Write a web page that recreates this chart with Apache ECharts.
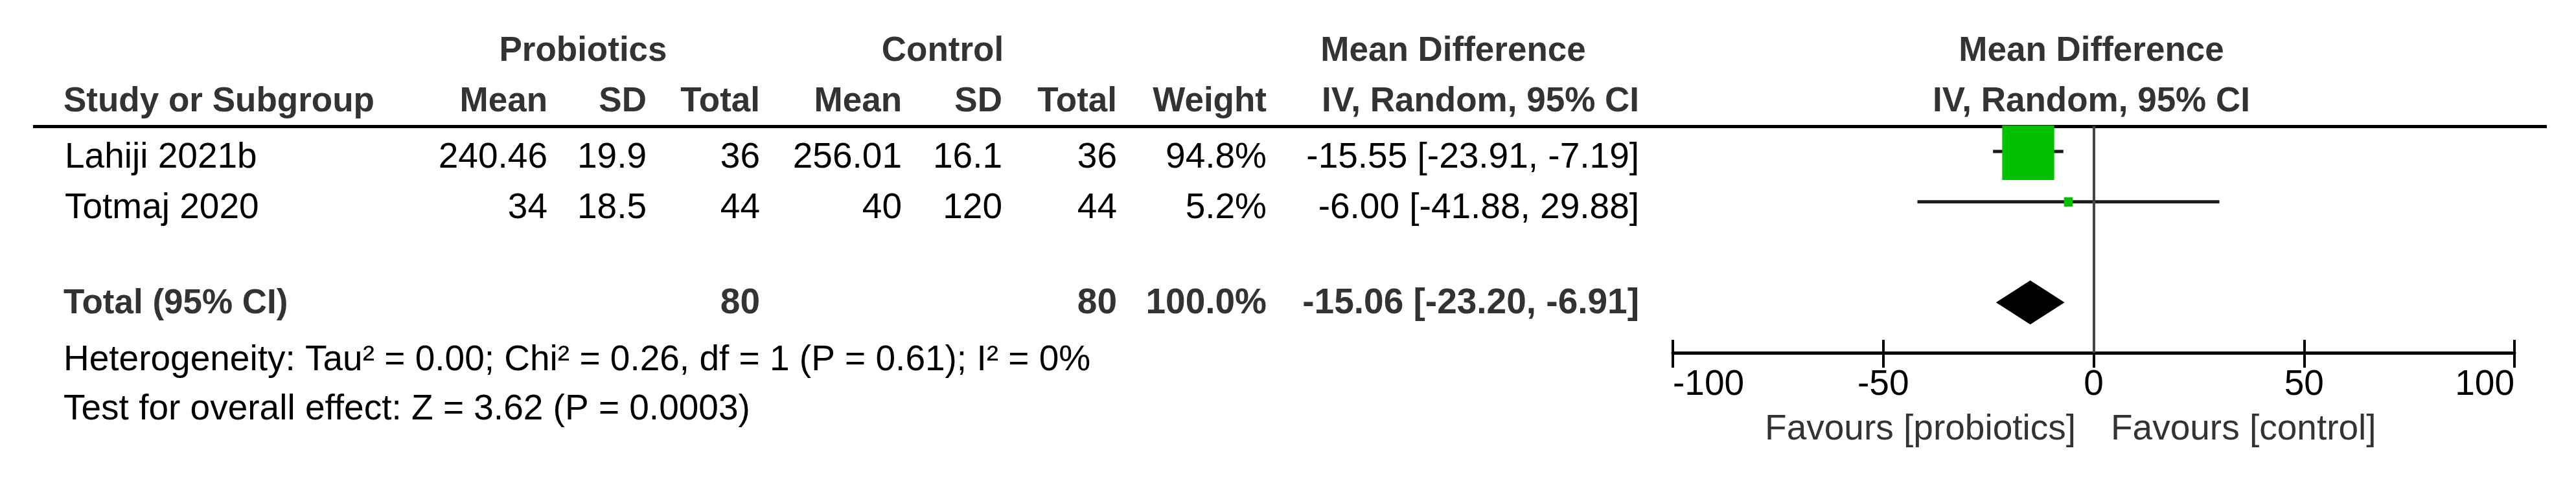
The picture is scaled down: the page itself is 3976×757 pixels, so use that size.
<!DOCTYPE html>
<html>
<head>
<meta charset="utf-8">
<script src="https://cdn.jsdelivr.net/npm/echarts@6/dist/echarts.min.js"></script>
<style>
  html, body { margin: 0; padding: 0; background: #fff; }
  #chart { width: 3976px; height: 757px; }
</style>
</head>
<body>
<div id="chart"></div>
<script>
// study data
const studies = ['Lahiji 2021b', 'Totmaj 2020']
const probMean = [240.46, 34]
const probSD = [19.9, 18.5]
const probTotal = [36, 44]
const ctrlMean = [256.01, 40]
const ctrlSD = [16.1, 120]
const ctrlTotal = [36, 44]
const weights = [94.8, 5.2]
const md = [-15.55, -6.00]
const ciLow = [-23.91, -41.88]
const ciHigh = [-7.19, 29.88]

const totalLabel = 'Total (95% CI)'
const totalProb = 80
const totalCtrl = 80
const totalWeight = 100.0
const totalMd = -15.06
const totalLow = -23.20
const totalHigh = -6.91

const xTicks = [-100, -50, 0, 50, 100]
const footnotes = [
  'Heterogeneity: Tau\u00b2 = 0.00; Chi\u00b2 = 0.26, df = 1 (P = 0.61); I\u00b2 = 0%',
  'Test for overall effect: Z = 3.62 (P = 0.0003)'
]
const favours = ['Favours [probiotics]', 'Favours [control]']

const FONT = '"Liberation Sans", Arial, sans-serif'
const FS = 55
const FS_BOLD = 53

function txt (str, x, y, align, bold, color, size) {
  const fs = size || (bold ? FS_BOLD : FS)
  return {
    type: 'text',
    x: x,
    y: y,
    silent: true,
    style: {
      text: str,
      textAlign: align,
      textVerticalAlign: 'middle',
      font: (bold ? 'bold ' : '') + fs + 'px ' + FONT,
      fill: color || '#000'
    }
  }
}

const fmtCI = (m, lo, hi) => m.toFixed(2) + ' [' + lo.toFixed(2) + ', ' + hi.toFixed(2) + ']'

// table layout: column anchors and row heights (pixels)
const rowY = [244, 322]
const totalY = 469
const head1Y = 79
const head2Y = 157
const HEAD = '#333'

const graphics = []
// header rows
graphics.push(txt('Probiotics', 900, head1Y, 'center', true, HEAD))
graphics.push(txt('Control', 1455, head1Y, 'center', true, HEAD))
graphics.push(txt('Mean Difference', 2243, head1Y, 'center', true, HEAD))
graphics.push(txt('Mean Difference', 3228, head1Y, 'center', true, HEAD))
graphics.push(txt('Study or Subgroup', 98, head2Y, 'left', true, HEAD))
const colDefs = [
  { x: 845, name: 'Mean', vals: probMean.map(String), tot: '' },
  { x: 998, name: 'SD', vals: probSD.map(String), tot: '' },
  { x: 1173, name: 'Total', vals: probTotal.map(String), tot: String(totalProb) },
  { x: 1392, name: 'Mean', vals: ctrlMean.map(String), tot: '' },
  { x: 1547, name: 'SD', vals: ctrlSD.map(String), tot: '' },
  { x: 1724, name: 'Total', vals: ctrlTotal.map(String), tot: String(totalCtrl) },
  { x: 1955, name: 'Weight', vals: weights.map(w => w.toFixed(1) + '%'), tot: totalWeight.toFixed(1) + '%' },
  { x: 2530, name: 'IV, Random, 95% CI', vals: md.map((m, i) => fmtCI(m, ciLow[i], ciHigh[i])), tot: fmtCI(totalMd, totalLow, totalHigh) }
]
colDefs.forEach(c => {
  graphics.push(txt(c.name, c.x, head2Y, 'right', true, HEAD))
  c.vals.forEach((v, i) => graphics.push(txt(v, c.x, rowY[i], 'right', false)))
  if (c.tot) graphics.push(txt(c.tot, c.x, totalY, 'right', true, HEAD, FS))
})
graphics.push(txt('IV, Random, 95% CI', 3228, head2Y, 'center', true, HEAD))
studies.forEach((s, i) => graphics.push(txt(s, 100, rowY[i], 'left', false)))
graphics.push(txt(totalLabel, 98, totalY, 'left', true, HEAD))
graphics.push(txt(footnotes[0], 98, 557, 'left', false))
graphics.push(txt(footnotes[1], 98, 633, 'left', false))
graphics.push(txt(favours[0], 3204, 664, 'right', false, HEAD))
graphics.push(txt(favours[1], 3258, 664, 'left', false, HEAD))
// rule under the header
graphics.push({
  type: 'line',
  silent: true,
  shape: { x1: 51, y1: 195.5, x2: 3931, y2: 195.5 },
  style: { stroke: '#000', lineWidth: 5 }
})

const studyData = studies.map((s, i) => [md[i], i + 1, ciLow[i], ciHigh[i], weights[i]])
const totalData = [[totalMd, 4, totalLow, totalHigh]]

const xBase = {
  type: 'value',
  min: xTicks[0],
  max: xTicks[xTicks.length - 1],
  interval: 50,
  position: 'bottom',
  splitLine: { show: false }
}

const option = {
  animation: false,
  backgroundColor: '#fff',
  grid: { left: 2582, right: 95, top: 195, bottom: 212 },
  xAxis: [
    Object.assign({}, xBase, {
      axisLine: { show: true, lineStyle: { color: '#000', width: 5 } },
      axisTick: { show: true, inside: true, length: 20, lineStyle: { color: '#000', width: 4 } },
      axisLabel: {
        show: true,
        margin: 22,
        color: '#000',
        fontSize: FS,
        fontFamily: FONT,
        alignMinLabel: 'left',
        alignMaxLabel: 'right'
      }
    }),
    Object.assign({}, xBase, {
      axisLine: { show: false },
      axisTick: { show: true, inside: false, length: 23, lineStyle: { color: '#000', width: 4 } },
      axisLabel: { show: false }
    })
  ],
  yAxis: { type: 'value', min: 0.5, max: 5, inverse: true, show: false },
  graphic: graphics,
  series: [
    {
      type: 'custom',
      name: 'studies',
      xAxisIndex: 0,
      encode: { x: [0, 2, 3], y: 1 },
      data: studyData,
      renderItem (params, api) {
        const y = api.value(1)
        const lo = api.coord([api.value(2), y])
        const hi = api.coord([api.value(3), y])
        const c = api.coord([api.value(0), y])
        const side = 5 * Math.pow(api.value(4), 0.61)
        return {
          type: 'group',
          children: [
            { type: 'line', shape: { x1: lo[0], y1: lo[1], x2: hi[0], y2: hi[1] }, style: { stroke: '#1a1a1a', lineWidth: 5 } },
            { type: 'rect', shape: { x: c[0] - side / 2, y: c[1] - side / 2, width: side, height: side * 1.05 }, style: { fill: '#00c000' } }
          ]
        }
      },
      markLine: {
        silent: true,
        symbol: ['none', 'none'],
        label: { show: false },
        lineStyle: { color: '#444', width: 4, type: 'solid' },
        data: [{ xAxis: 0 }]
      }
    },
    {
      type: 'custom',
      name: 'total',
      xAxisIndex: 0,
      encode: { x: [0, 2, 3], y: 1 },
      data: totalData,
      renderItem (params, api) {
        const y = api.value(1)
        const lo = api.coord([api.value(2), y])
        const hi = api.coord([api.value(3), y])
        const c = api.coord([api.value(0), y])
        const h = 34
        return {
          type: 'polygon',
          shape: { points: [[lo[0], lo[1]], [c[0], c[1] - h], [hi[0], hi[1]], [c[0], c[1] + h]] },
          style: { fill: '#000' }
        }
      }
    }
  ]
}

const chart = echarts.init(document.getElementById('chart'))
chart.setOption(option, true)
</script>
</body>
</html>
